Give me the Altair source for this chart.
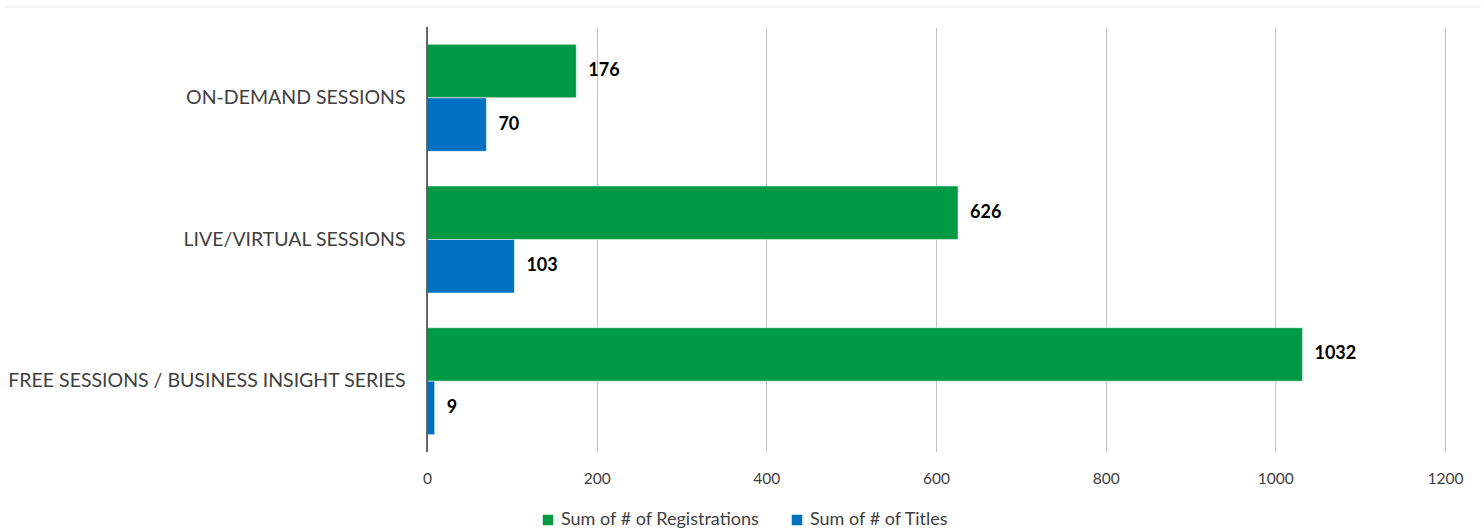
import altair as alt
import pandas as pd

categories = ["ON-DEMAND SESSIONS", "LIVE/VIRTUAL SESSIONS", "FREE SESSIONS / BUSINESS INSIGHT SERIES"]
registrations = [176, 626, 1032]
titles = [70, 103, 9]
series = ["Sum of # of Registrations", "Sum of # of Titles"]
colors = ["#009A44", "#0070C0"]
x_ticks = [0, 200, 400, 600, 800, 1000, 1200]

rows = []
for c, r, t in zip(categories, registrations, titles):
    rows.append({"cat": c, "series": series[0], "value": r})
    rows.append({"cat": c, "series": series[1], "value": t})
df = pd.DataFrame(rows)

FONT = "Lato"
W, H = 1018, 425

y_enc = alt.Y("cat:N", sort=categories,
              scale=alt.Scale(paddingInner=0.245, paddingOuter=0.1225),
              axis=alt.Axis(title=None, domain=False, ticks=False, grid=False,
                            labelFontSize=19.5,
                            labelColor="#404040", labelFont=FONT, labelPadding=22,
                            labelLimit=600))
x_enc = alt.X("value:Q", scale=alt.Scale(domain=[0, 1200], nice=False),
              axis=alt.Axis(title=None, values=x_ticks, domain=False, ticks=False,
                            grid=True, gridColor="#C4C4C4", gridWidth=1, format="d",
                            labelFlush=False,
                            labelFontSize=15.5, labelColor="#404040", labelFont=FONT,
                            labelPadding=19))
yoff = alt.YOffset("series:N", sort=series)

bars = alt.Chart(df).mark_bar(stroke="white", strokeWidth=0.5).encode(
    y=y_enc, x=x_enc, yOffset=yoff,
    color=alt.Color("series:N", sort=series,
                    scale=alt.Scale(domain=series, range=colors),
                    legend=alt.Legend(title=None, orient="none", legendX=112, legendY=484,
                                      direction="horizontal", symbolType="square",
                                      symbolSize=110, symbolStrokeWidth=0,
                                      labelFontSize=18, labelFont=FONT, labelLimit=0,
                                      labelColor="#404040", columnPadding=28,
                                      symbolOffset=0, labelOffset=4)),
)

labels = alt.Chart(df).mark_text(align="left", baseline="middle", dx=12,
                                 fontWeight="bold", fontSize=18, font=FONT,
                                 color="black").encode(
    y=alt.Y("cat:N", sort=categories),
    x=alt.X("value:Q"), yOffset=yoff,
    text="value:Q")

zero_line = alt.Chart(pd.DataFrame({"v": [0]})).mark_rule(color="#595959", strokeWidth=1.8).encode(
    x=alt.X("v:Q"), y=alt.value(0), y2=alt.value(H))

top_line = alt.Chart(pd.DataFrame({"v": [0]})).mark_rule(color="#EDEDED", strokeWidth=1).encode(
    x=alt.value(-422), x2=alt.value(1060), y=alt.value(-20))

chart = alt.layer(bars, labels, zero_line, top_line).properties(
    width=W, height=H,
    view=alt.ViewBackground(stroke=None),
    autosize=alt.AutoSizeParams(type="none"),
    padding={"left": 427, "top": 27, "right": 36, "bottom": 77},
).configure_view(strokeWidth=0).configure(background="white")

chart.save("out.html", embed_options={"renderer": "svg", "actions": False})
